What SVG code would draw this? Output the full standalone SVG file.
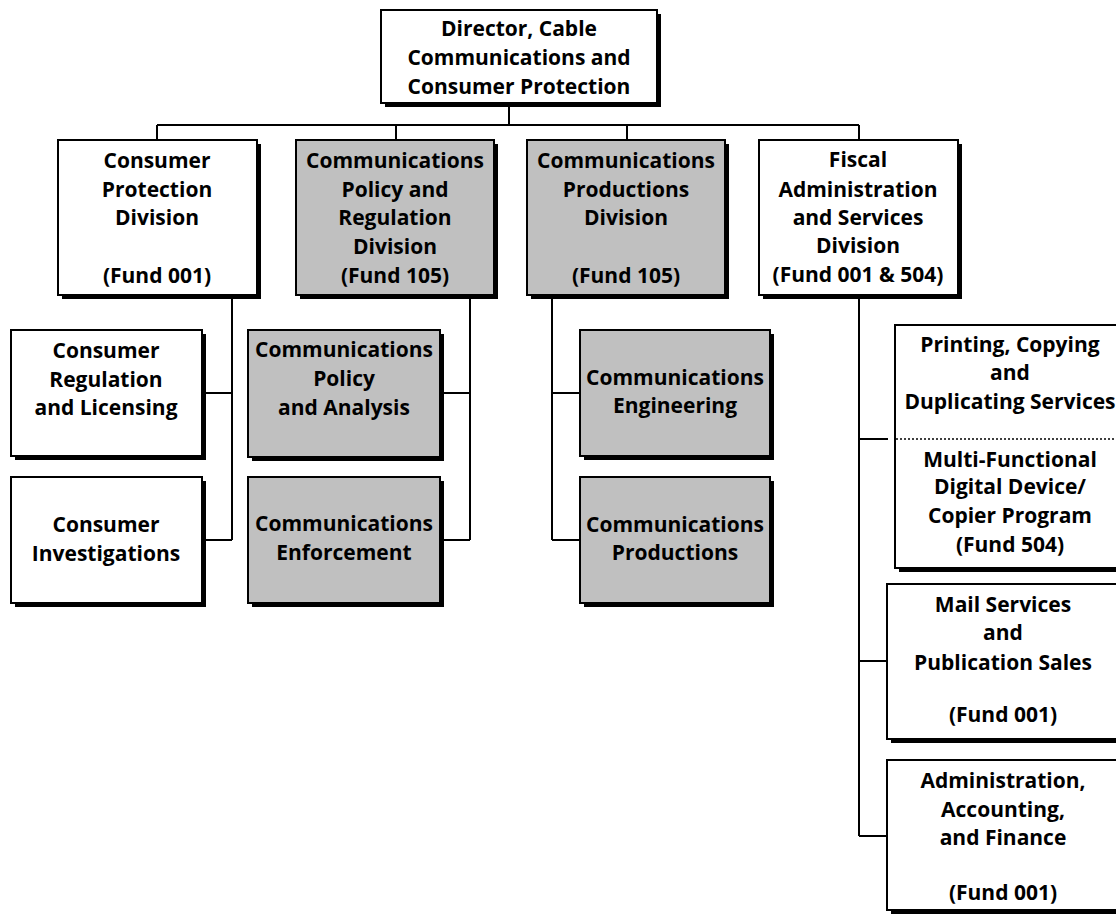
<svg xmlns="http://www.w3.org/2000/svg" width="1116" height="916" viewBox="0 0 1116 916">
<style>
.sh{fill:#000}
.bx{fill:#fff;stroke:#000;stroke-width:2}
.gy{fill:#c0c0c0;stroke:#000;stroke-width:2}
.ln{fill:none;stroke:#000;stroke-width:2}
.dt{fill:none;stroke:#000;stroke-width:1.5;stroke-dasharray:2 2}
text{font-family:"Open Sans","Liberation Sans",sans-serif;font-weight:bold;font-size:21px;fill:#000;text-anchor:middle}
</style>
<rect width="1116" height="916" fill="#fff"/>
<g id="connectors">
<path class="ln" d="M509 107V125M157 125H859M157 125V140M396 125V140M627 125V140M859 125V140"/>
<path class="ln" d="M232 295V540M202 393H232M202 540H232"/>
<path class="ln" d="M470 295V540M440 393H470M440 540H470"/>
<path class="ln" d="M552 295V540M552 393H580M552 540H580"/>
<path class="ln" d="M859 295V836M859 439H888M859 661H887M859 836H887"/>
</g>
<g id="director">
<rect class="sh" x="385" y="14" width="276" height="93"/>
<rect class="bx" x="381" y="10" width="276" height="93"/>
<text x="519" y="36">Director, Cable</text>
<text x="519" y="65">Communications and</text>
<text x="519" y="94">Consumer Protection</text>
</g>
<g id="consumer-protection">
<rect class="sh" x="62" y="144" width="199" height="155"/>
<rect class="bx" x="58" y="140" width="199" height="155"/>
<text x="157" y="168">Consumer</text>
<text x="157" y="197">Protection</text>
<text x="157" y="225">Division</text>
<text x="157" y="283">(Fund 001)</text>
</g>
<g id="comm-policy-regulation">
<rect class="sh" x="300" y="144" width="198" height="155"/>
<rect class="gy" x="296" y="140" width="198" height="155"/>
<text x="395" y="168">Communications</text>
<text x="395" y="197">Policy and</text>
<text x="395" y="225">Regulation</text>
<text x="395" y="254">Division</text>
<text x="395" y="283">(Fund 105)</text>
</g>
<g id="comm-productions-division">
<rect class="sh" x="531" y="144" width="198" height="155"/>
<rect class="gy" x="527" y="140" width="198" height="155"/>
<text x="626" y="168">Communications</text>
<text x="626" y="197">Productions</text>
<text x="626" y="225">Division</text>
<text x="626" y="283">(Fund 105)</text>
</g>
<g id="fiscal">
<rect class="sh" x="763" y="144" width="199" height="155"/>
<rect class="bx" x="759" y="140" width="199" height="155"/>
<text x="858" y="167">Fiscal</text>
<text x="858" y="197">Administration</text>
<text x="858" y="225">and Services</text>
<text x="858" y="253">Division</text>
<text x="858" y="282">(Fund 001 &amp; 504)</text>
</g>
<g id="consumer-regulation">
<rect class="sh" x="15" y="334" width="191" height="126"/>
<rect class="bx" x="11" y="330" width="191" height="126"/>
<text x="106" y="358">Consumer</text>
<text x="106" y="387">Regulation</text>
<text x="106" y="415">and Licensing</text>
</g>
<g id="consumer-investigations">
<rect class="sh" x="15" y="481" width="191" height="126"/>
<rect class="bx" x="11" y="477" width="191" height="126"/>
<text x="106" y="532">Consumer</text>
<text x="106" y="561">Investigations</text>
</g>
<g id="comm-policy-analysis">
<rect class="sh" x="252" y="334" width="192" height="127"/>
<rect class="gy" x="248" y="330" width="192" height="127"/>
<text x="344" y="357">Communications</text>
<text x="344" y="386">Policy</text>
<text x="344" y="415">and Analysis</text>
</g>
<g id="comm-enforcement">
<rect class="sh" x="252" y="481" width="192" height="126"/>
<rect class="gy" x="248" y="477" width="192" height="126"/>
<text x="344" y="531">Communications</text>
<text x="344" y="560">Enforcement</text>
</g>
<g id="comm-engineering">
<rect class="sh" x="584" y="334" width="190" height="126"/>
<rect class="gy" x="580" y="330" width="190" height="126"/>
<text x="675" y="385">Communications</text>
<text x="675" y="413">Engineering</text>
</g>
<g id="comm-productions">
<rect class="sh" x="584" y="481" width="190" height="126"/>
<rect class="gy" x="580" y="477" width="190" height="126"/>
<text x="675" y="532">Communications</text>
<text x="675" y="560">Productions</text>
</g>
<g id="printing">
<rect class="sh" x="899" y="329" width="230" height="243"/>
<rect class="bx" x="895" y="325" width="230" height="243"/>
<line class="dt" x1="896" y1="439" x2="1116" y2="439"/>
<text x="1010" y="352">Printing, Copying</text>
<text x="1010" y="380">and</text>
<text x="1010" y="409">Duplicating Services</text>
<text x="1010" y="467">Multi-Functional</text>
<text x="1010" y="494">Digital Device/</text>
<text x="1010" y="523">Copier Program</text>
<text x="1010" y="552">(Fund 504)</text>
</g>
<g id="mail">
<rect class="sh" x="891" y="588" width="233" height="155"/>
<rect class="bx" x="887" y="584" width="233" height="155"/>
<text x="1003" y="612">Mail Services</text>
<text x="1003" y="640">and</text>
<text x="1003" y="670">Publication Sales</text>
<text x="1003" y="722">(Fund 001)</text>
</g>
<g id="admin">
<rect class="sh" x="891" y="764" width="233" height="150"/>
<rect class="bx" x="887" y="760" width="233" height="150"/>
<text x="1003" y="788">Administration,</text>
<text x="1003" y="817">Accounting,</text>
<text x="1003" y="845">and Finance</text>
<text x="1003" y="900">(Fund 001)</text>
</g>
</svg>
